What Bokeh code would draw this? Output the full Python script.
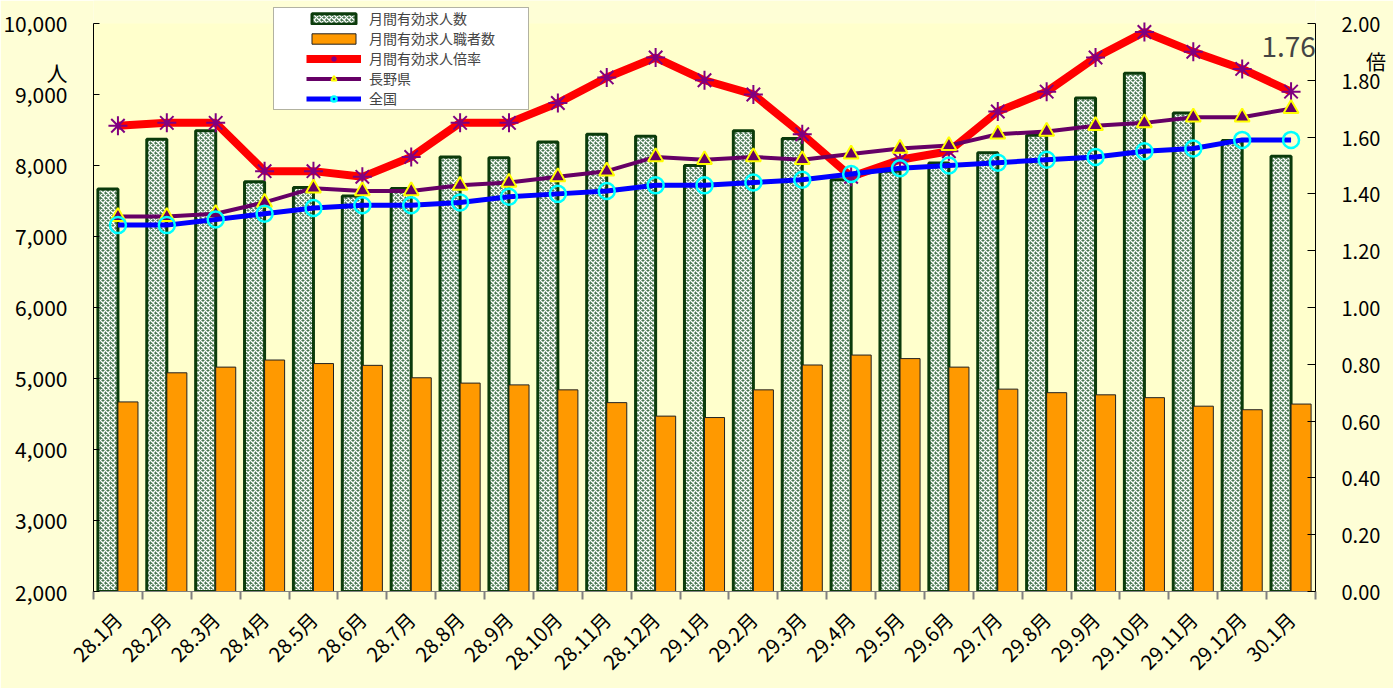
import numpy as np
from bokeh.plotting import figure
from bokeh.models import (Range1d, LinearAxis, FixedTicker, NumeralTickFormatter,
                          Legend, LegendItem, Label, BoxAnnotation, ColumnDataSource)
from bokeh.transform import dodge
from bokeh.embed import file_html
from bokeh.resources import INLINE

months = ["28.1月", "28.2月", "28.3月", "28.4月", "28.5月", "28.6月", "28.7月", "28.8月",
          "28.9月", "28.10月", "28.11月", "28.12月", "29.1月", "29.2月", "29.3月", "29.4月",
          "29.5月", "29.6月", "29.7月", "29.8月", "29.9月", "29.10月", "29.11月", "29.12月", "30.1月"]
openings = [7670, 8370, 8490, 7770, 7690, 7570, 7675, 8120, 8110, 8330, 8440, 8410, 8000,
            8490, 8380, 7800, 7920, 8035, 8180, 8425, 8950, 9300, 8740, 8350, 8130]
seekers = [4670, 5080, 5160, 5260, 5210, 5185, 5010, 4935, 4910, 4840, 4660, 4470, 4450,
           4840, 5190, 5330, 5280, 5160, 4850, 4800, 4770, 4730, 4610, 4560, 4640]
ratio = [1.64, 1.65, 1.65, 1.48, 1.48, 1.46, 1.53, 1.65, 1.65, 1.72, 1.81, 1.88, 1.80,
         1.75, 1.61, 1.46, 1.52, 1.55, 1.69, 1.76, 1.88, 1.97, 1.90, 1.84, 1.76]
nagano = [1.32, 1.32, 1.33, 1.37, 1.42, 1.41, 1.41, 1.43, 1.44, 1.46, 1.48, 1.53, 1.52,
          1.53, 1.52, 1.54, 1.56, 1.57, 1.61, 1.62, 1.64, 1.65, 1.67, 1.67, 1.70]
national = [1.29, 1.29, 1.31, 1.33, 1.35, 1.36, 1.36, 1.37, 1.39, 1.40, 1.41, 1.43, 1.43,
            1.44, 1.45, 1.47, 1.49, 1.50, 1.51, 1.52, 1.53, 1.55, 1.56, 1.59, 1.59]
left_ticks = [2000, 3000, 4000, 5000, 6000, 7000, 8000, 9000, 10000]
right_ticks = [0.0, 0.2, 0.4, 0.6, 0.8, 1.0, 1.2, 1.4, 1.6, 1.8, 2.0]
left_unit, left_unit_at = "人", 9310
right_unit, right_unit_at = "\u3000 倍", 1.866

FONT = "Noto Sans CJK JP"
n = len(months)
xs = [i + 0.5 for i in range(n)]
src = ColumnDataSource(dict(x=xs, openings=openings, seekers=seekers,
                            ratio=ratio, nagano=nagano, national=national))

# frame reaches the canvas top so the legend box (above the 10,000 line) is not clipped
pad = 23 / 569
l_span = left_ticks[-1] - left_ticks[0]
r_span = right_ticks[-1] - right_ticks[0]
p = figure(width=1393, height=688, output_backend="svg", toolbar_location=None,
           x_range=Range1d(0, n),
           y_range=Range1d(left_ticks[0], left_ticks[-1] + l_span * pad),
           min_border_left=92, min_border_right=78, min_border_top=0, min_border_bottom=96)
p.extra_y_ranges = {"ratio": Range1d(right_ticks[0], right_ticks[-1] + r_span * pad)}
p.background_fill_color = "#FEFED6"
p.border_fill_color = "#FEFED6"
p.outline_line_color = None
p.xgrid.visible = False
p.ygrid.visible = False

bar_w = 0.41
r_open = p.vbar(x=dodge("x", -bar_w / 2), top="openings", bottom=left_ticks[0], width=bar_w,
                source=src, fill_color="#4A7A52", hatch_pattern="diagonal_cross",
                hatch_color="white", hatch_scale=5, hatch_weight=1.3,
                line_color="#0B3B0B", line_width=3)
r_seek = p.vbar(x=dodge("x", bar_w / 2), top="seekers", bottom=left_ticks[0], width=bar_w,
                source=src, fill_color="#FF9900", line_color="#222222", line_width=1)

r_rl = p.line("x", "ratio", source=src, y_range_name="ratio", line_color="#FF0000", line_width=8)
r_rm = p.scatter("x", "ratio", source=src, y_range_name="ratio", marker="asterisk",
                 size=19, line_color="#800080", line_width=2)
r_nl = p.line("x", "nagano", source=src, y_range_name="ratio", line_color="#660066", line_width=4)
r_nm = p.scatter("x", "nagano", source=src, y_range_name="ratio", marker="triangle",
                 size=15, fill_color="#660066", line_color="#FFFF00", line_width=2)
r_al = p.line("x", "national", source=src, y_range_name="ratio", line_color="#0000FF", line_width=5)
r_am = p.scatter("x", "national", source=src, y_range_name="ratio", marker="circle",
                 size=16, fill_color=None, line_color="#00FFFF", line_width=2.5)

# axes
xa = p.xaxis[0]
xa.ticker = FixedTicker(ticks=xs, minor_ticks=list(range(n + 1)))
xa.major_label_overrides = {x: m for x, m in zip(xs, months)}
xa.major_tick_line_color = None
xa.minor_tick_line_color = "#808080"
xa.minor_tick_line_width = 2
xa.minor_tick_in = 0
xa.minor_tick_out = 8
xa.axis_line_color = "#808080"
xa.major_label_orientation = np.pi / 4
xa.major_label_standoff = 16
xa.major_label_text_font = FONT
xa.major_label_text_font_size = "20px"
xa.major_label_text_color = "black"

ya = p.yaxis[0]
ya.ticker = FixedTicker(ticks=left_ticks + [left_unit_at], minor_ticks=left_ticks)
ya.formatter = NumeralTickFormatter(format="0,0")
ya.major_label_overrides = {left_unit_at: left_unit}
ya.bounds = (left_ticks[0], left_ticks[-1])
ya.major_tick_line_color = None
ya.minor_tick_line_color = "black"
ya.minor_tick_in = 6
ya.minor_tick_out = 0
ya.axis_line_color = "black"
ya.major_label_standoff = 20
ya.major_label_text_font = FONT
ya.major_label_text_font_size = "21px"
ya.major_label_text_color = "black"

ra = LinearAxis(y_range_name="ratio",
                ticker=FixedTicker(ticks=right_ticks + [right_unit_at], minor_ticks=right_ticks),
                formatter=NumeralTickFormatter(format="0.00"))
ra.major_label_overrides = {right_unit_at: right_unit}
ra.bounds = (right_ticks[0], right_ticks[-1])
ra.major_tick_line_color = None
ra.minor_tick_line_color = "black"
ra.minor_tick_in = 8
ra.minor_tick_out = 0
ra.axis_line_color = "black"
ra.major_label_standoff = 20
ra.major_label_text_font = FONT
ra.major_label_text_font_size = "20px"
ra.major_label_text_color = "black"
p.add_layout(ra, "right")

# plot-area fill (the part of the frame inside the axes)
p.add_layout(BoxAnnotation(left=0, right=n, bottom=left_ticks[0], top=left_ticks[-1],
                           fill_color="#FFFFCC", fill_alpha=1, line_color=None,
                           level="underlay"))

p.add_layout(Label(x=xs[-1] - 0.05, y=1.92, y_range_name="ratio", text=f"{ratio[-1]:.2f}",
                   text_font=FONT, text_font_size="28px", text_align="center",
                   text_baseline="middle"))

# legend box + legend (screen units measured from the frame's bottom-left)
p.add_layout(BoxAnnotation(left=180, right=435, top=584, bottom=482,
                           left_units="screen", right_units="screen",
                           top_units="screen", bottom_units="screen",
                           fill_color="white", fill_alpha=1, line_color="black", line_width=1))
legend = Legend(items=[
    LegendItem(label="月間有効求人数", renderers=[r_open]),
    LegendItem(label="月間有効求人職者数", renderers=[r_seek]),
    LegendItem(label="月間有効求人倍率", renderers=[r_rl, r_rm]),
    LegendItem(label="長野県", renderers=[r_nl, r_nm]),
    LegendItem(label="全国", renderers=[r_al, r_am]),
], location=(213, 483))
legend.padding = 0
legend.margin = 0
legend.spacing = 0
legend.border_line_color = None
legend.background_fill_alpha = 0
legend.glyph_width = 55
legend.glyph_height = 13
legend.label_height = 20
legend.label_standoff = 8
legend.label_text_font = FONT
legend.label_text_font_size = "14px"
legend.label_text_baseline = "middle"
p.add_layout(legend, "center")

open("out.html", "w").write(file_html(p, INLINE))
